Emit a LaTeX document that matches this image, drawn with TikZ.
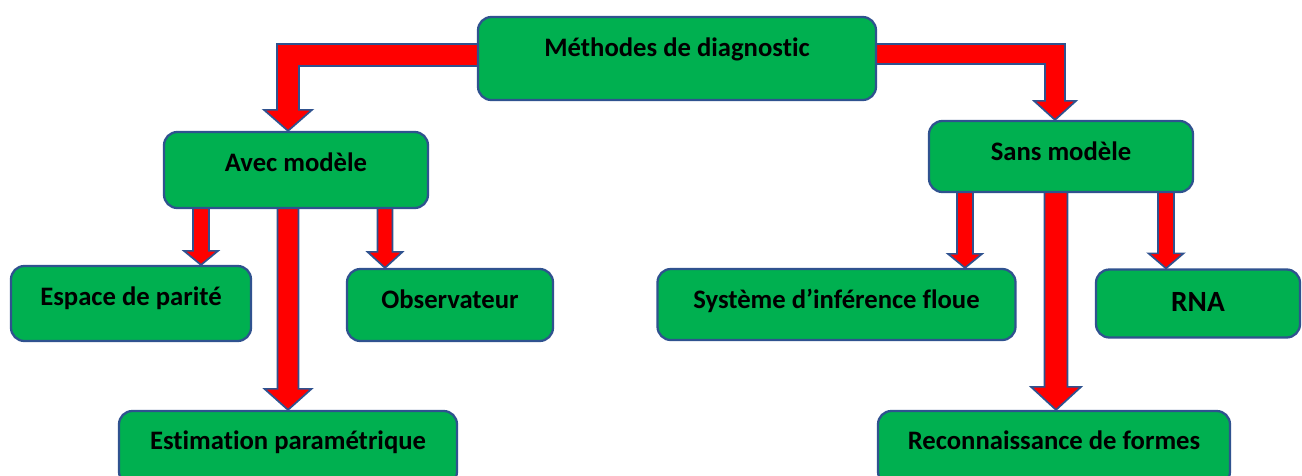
\documentclass[tikz,border=0pt]{standalone}
\usepackage{fontspec}
\setmainfont{Carlito}[Ligatures=NoCommon]
\usetikzlibrary{calc}
\definecolor{boxgreen}{RGB}{0,176,80}
\definecolor{edgeblue}{RGB}{47,82,143}
\pgfdeclarelayer{bg}
\pgfsetlayers{bg,main}

% block arrow going straight down: x, from, to, half shaft, half head, head length
\newcommand{\downblock}[6]{%
  \draw[blockarrow] ($(#1,0 |- #2.center)+(-#4,0)$) -- ($(#1,0 |- #3.north)+(-#4,-#6)$)
    -- ++(#4-#5,0) -- (#1,0 |- #3.north) -- ++(#5,-#6) -- ++(#4-#5,0)
    -- ($(#1,0 |- #2.center)+(#4,0)$) -- cycle;}

\begin{document}
\begin{tikzpicture}[x=0.75pt, y=-0.75pt,
    box/.style={draw=edgeblue, line width=1.7pt, fill=boxgreen, rounded corners=10pt,
      font=\fontsize{20}{24}\selectfont\bfseries, text height=14pt, text depth=10pt},
    blockarrow/.style={draw=edgeblue, line width=1.3pt, fill=red, line join=miter}]
  \clip (0,0) rectangle (1302,475);

  \node[box, minimum width=298.5pt, minimum height=62.25pt, text depth=16.4pt] (meth) at (677,58.5) {Méthodes de diagnostic};
  \node[box, minimum width=198pt, minimum height=57pt, text depth=11.6pt] (avec) at (296,170) {Avec modèle};
  \node[box, minimum width=198pt, minimum height=53.25pt, text depth=8.6pt] (sans) at (1061,156.5) {Sans modèle};

  \node[box, minimum width=180pt, minimum height=56.25pt, text depth=11.6pt] (espace) at (131,303.5) {Espace de parité};
  \node[box, minimum width=154.5pt, minimum height=54pt, text depth=8.6pt] (obs) at (450,305) {Observateur};
  \node[box, minimum width=253.5pt, minimum height=55.5pt, text depth=12.3pt] (estim) at (288,448) {Estimation paramétrique};

  \node[box, minimum width=268.5pt, minimum height=53.25pt, text depth=8.6pt] (sif) at (836.5,304.5) {Système d’inférence floue};
  \node[box, minimum width=153pt, minimum height=51pt, font=\fontsize{22}{26}\selectfont\bfseries, text depth=2pt] (rna) at (1198,303.5) {RNA};
  \node[box, minimum width=264pt, minimum height=55.5pt, text depth=12.3pt] (recon) at (1054,448) {Reconnaissance de formes};

  \begin{pgfonlayer}{bg}
    \coordinate (ltip) at (288,0 |- avec.north);
    \coordinate (rtip) at (1055,0 |- sans.north);
    \draw[blockarrow] ($(meth.center)+(0,-14.5)$) -| ($(ltip)+(-11,-21)$) -- ++(-13,0) -- (ltip)
      -- ++(24,-21) -- ++(-13,0) |- ($(meth.center)+(0,7.5)$) -- cycle;
    \draw[blockarrow] ($(meth.center)+(0,-14.5)$) -| ($(rtip)+(10,-19)$) -- ++(11,0) -- (rtip)
      -- ++(-21,-19) -- ++(11,0) |- ($(meth.center)+(0,5.5)$) -- cycle;

    \downblock{201}{avec}{espace}{8}{17}{14}
    \downblock{385}{avec}{obs}{7.5}{17.5}{16}
    \downblock{288}{avec}{estim}{10.5}{23.5}{21}
    \downblock{965}{sans}{sif}{8}{17}{14}
    \downblock{1166}{sans}{rna}{8}{17.5}{15}
    \downblock{1056}{sans}{recon}{11.5}{25}{23}
  \end{pgfonlayer}
\end{tikzpicture}
\end{document}
